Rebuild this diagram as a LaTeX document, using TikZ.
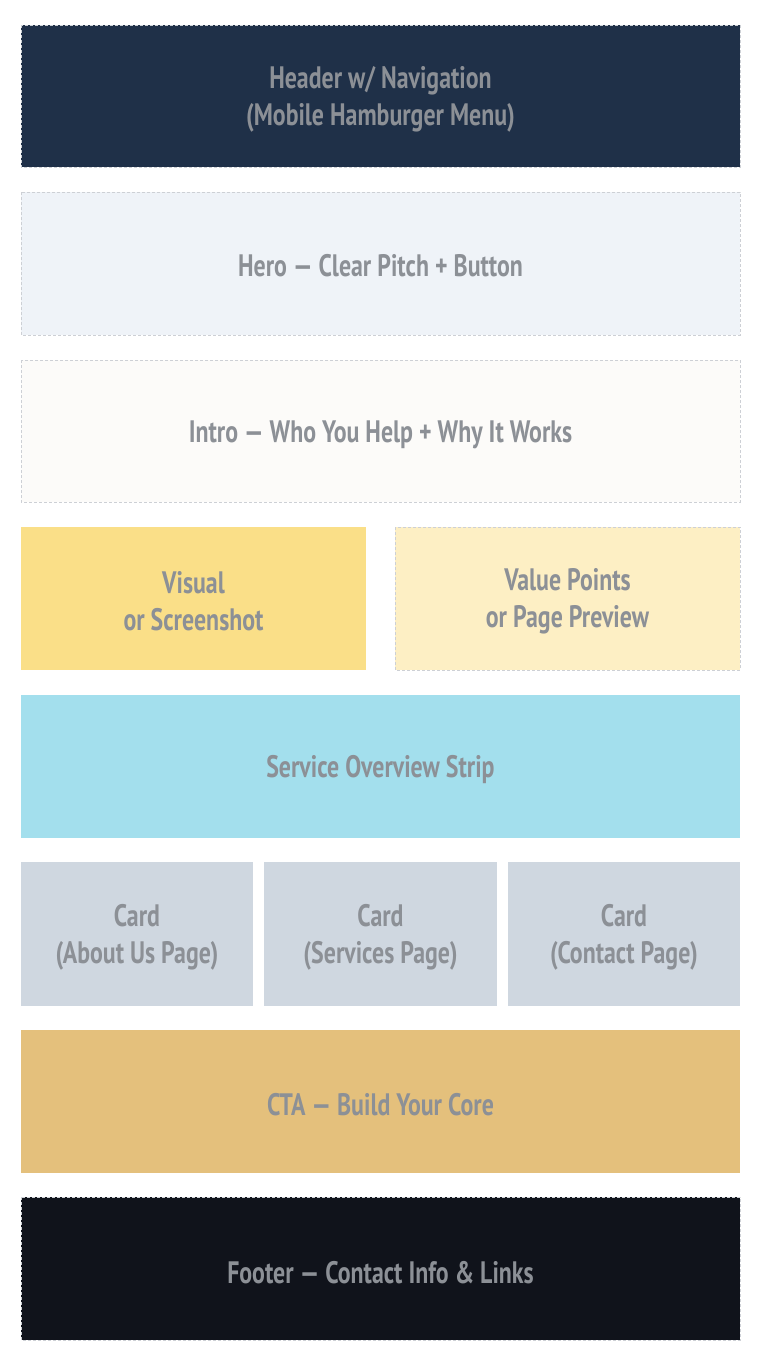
\documentclass[tikz,border=0pt]{standalone}
\usepackage{fontspec}
\setmainfont{PT Sans}[FakeStretch=0.77]
\definecolor{hdr}{HTML}{1F3048}
\definecolor{hero}{HTML}{EFF3F8}
\definecolor{intro}{HTML}{FCFBF9}
\definecolor{vis}{HTML}{FADF88}
\definecolor{val}{HTML}{FDEFC4}
\definecolor{svc}{HTML}{A3DFED}
\definecolor{card}{HTML}{CFD7E0}
\definecolor{cta}{HTML}{E4C07C}
\definecolor{ftr}{HTML}{10131B}
\definecolor{txt}{HTML}{8C9096}
\definecolor{bord}{HTML}{CDD0D5}
\begin{document}
\begin{tikzpicture}[x=1pt,y=-1pt,
  blk/.style={draw=bord, dashed, dash pattern=on 3pt off 2pt, line width=0.8pt},
  lbl/.style={text=txt, align=center, font=\bfseries\fontsize{31}{37}\selectfont}]
\useasboundingbox (0,0) rectangle (768,1366);
\fill[white] (0,0) rectangle (768,1366);
\path[blk, fill=hdr] (21,25) rectangle (740,167);
\node[lbl] (header) at (380.5,99) {Header w/ Navigation\\(Mobile Hamburger Menu)};
\path[blk, fill=hero] (21,192) rectangle (740,335);
\node[lbl] (hero) at (380.5,266) {Hero — Clear Pitch + Button};
\path[blk, fill=intro] (21,360) rectangle (740,502);
\node[lbl] (intro) at (380.5,435) {Intro — Who You Help + Why It Works};
\path[blk, draw=none, fill=vis] (21,527) rectangle (366,670);
\node[lbl] (visual) at (193.5,601) {Visual\\or Screenshot};
\path[blk, fill=val] (395,527) rectangle (740,670);
\node[lbl] (value) at (567.5,601) {Value Points\\or Page Preview};
\path[blk, draw=none, fill=svc] (21,695) rectangle (740,838);
\node[lbl] (service) at (380.5,770) {Service Overview Strip};
\path[blk, draw=none, fill=card] (21,862) rectangle (253,1006);
\node[lbl] (card1) at (137,937) {Card\\(About Us Page)};
\path[blk, draw=none, fill=card] (264,862) rectangle (497,1006);
\node[lbl] (card2) at (380.5,937) {Card\\(Services Page)};
\path[blk, draw=none, fill=card] (508,862) rectangle (740,1006);
\node[lbl] (card3) at (624,937) {Card\\(Contact Page)};
\path[blk, draw=none, fill=cta] (21,1030) rectangle (740,1173);
\node[lbl] (cta) at (380.5,1105) {CTA — Build Your Core};
\path[blk, fill=ftr] (21,1197) rectangle (740,1340);
\node[lbl] (footer) at (380.5,1273) {Footer — Contact Info \& Links};
\end{tikzpicture}
\end{document}
